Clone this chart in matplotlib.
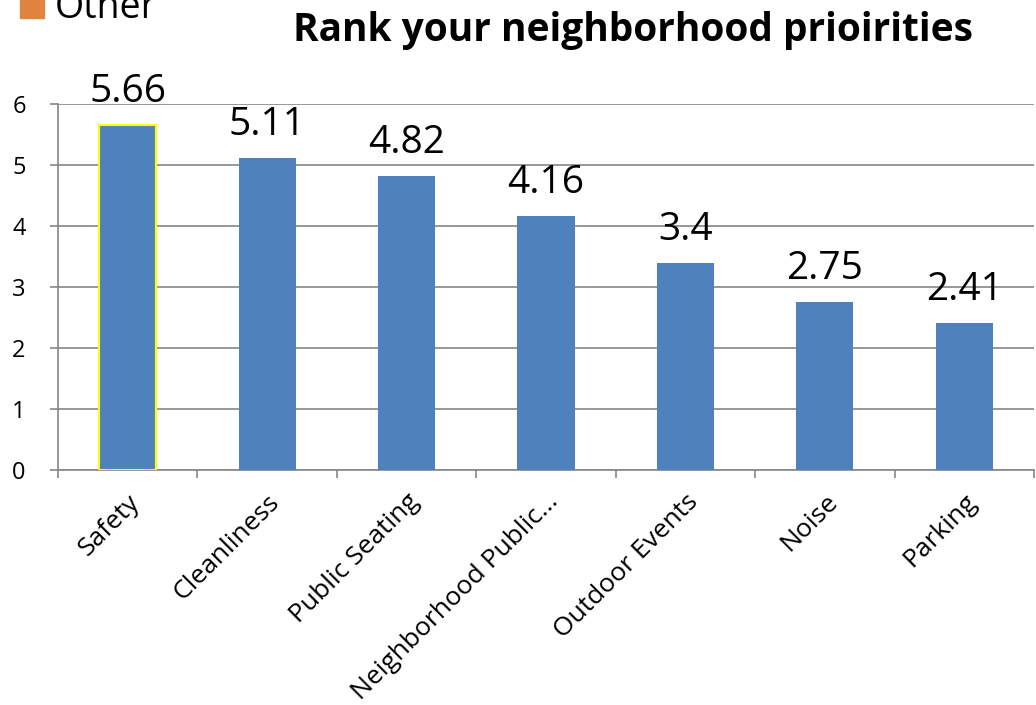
import numpy as np
import matplotlib.pyplot as plt
from matplotlib.patches import Rectangle

categories = ['Safety', 'Cleanliness', 'Public Seating', 'Neighborhood Public...',
              'Outdoor Events', 'Noise', 'Parking']
values = [5.66, 5.11, 4.82, 4.16, 3.4, 2.75, 2.41]
value_labels = ['5.66', '5.11', '4.82', '4.16', '3.4', '2.75', '2.41']

plt.rcParams['font.family'] = ['Open Sans', 'DejaVu Sans']

fig = plt.figure(figsize=(10.36, 7.05), dpi=100)
ax = fig.add_axes([58 / 1036, 1 - 470 / 705, 976 / 1036, 366 / 705])

x = np.arange(len(categories))
bars = ax.bar(x, values, width=0.41, color='#4F81BD', zorder=3)
bars[0].set_edgecolor('#FFFF00')
bars[0].set_linewidth(1.5)

for xi, v, lab in zip(x, values, value_labels):
    ax.annotate(lab, (xi, v), xytext=(0, 10), textcoords='offset points',
                ha='center', va='bottom', fontsize=28, color='black')

ax.set_xlim(-0.5, len(categories) - 0.5)
ax.set_ylim(0, 6)
ax.set_yticks(range(7))
ax.yaxis.grid(True, color='#868686', linewidth=1.2, zorder=0)
ax.tick_params(axis='y', length=6, width=1.2, color='#868686', labelsize=17, pad=27)
for lab in ax.get_yticklabels():
    lab.set_horizontalalignment('left')

ax.set_xticks(x)
ax.set_xticklabels(categories, rotation=45, ha='right', rotation_mode='anchor', fontsize=19)
ax.tick_params(axis='x', length=0, pad=14)
ax.set_xticks(np.arange(-0.5, len(categories), 1), minor=True)
ax.tick_params(axis='x', which='minor', length=6, width=1.2, color='#868686')

for s in ['top', 'right']:
    ax.spines[s].set_visible(False)
ax.spines['left'].set_color('#868686')
ax.spines['bottom'].set_color('#868686')
ax.spines['left'].set_linewidth(1.2)
ax.spines['bottom'].set_linewidth(1.2)

fig.text(633 / 1036, 1 - 30 / 705, 'Rank your neighborhood prioirities', ha='center', va='center',
         fontsize=28, fontweight='bold')

fig.patches.append(Rectangle((20 / 1036, 1 - 18 / 705), 24 / 1036, 24 / 705,
                             transform=fig.transFigure, color='#E0843F'))
fig.text(55 / 1036, 1 - 18 / 705, 'Other', ha='left', va='baseline', fontsize=27)

fig.savefig('out.png', dpi=100)
